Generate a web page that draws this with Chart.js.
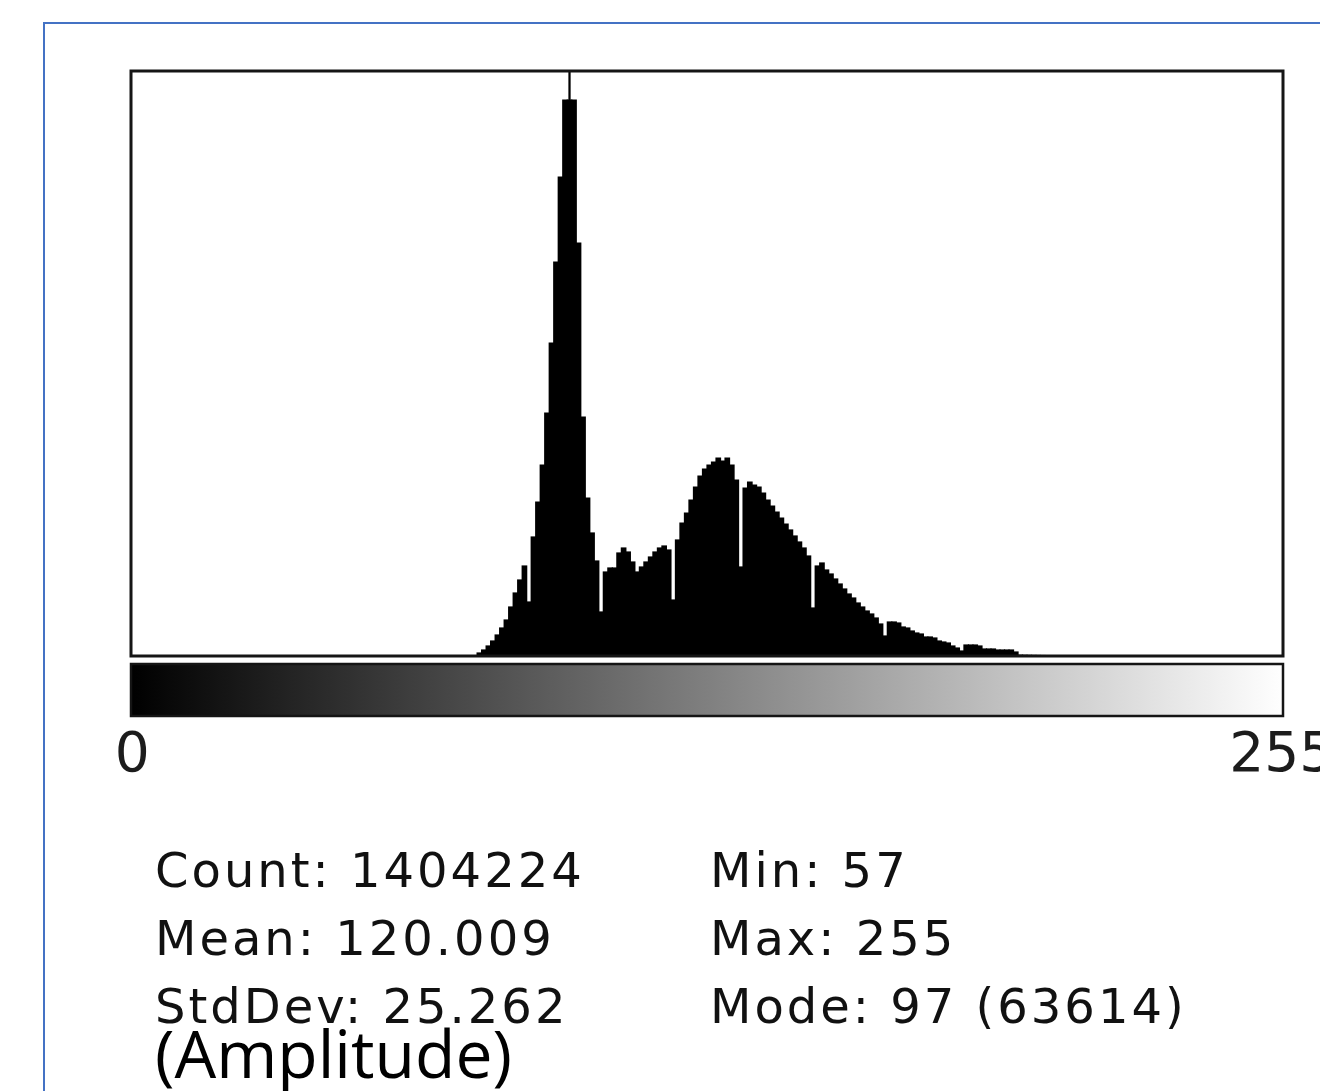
<!DOCTYPE html>
<html>
<head>
<meta charset="utf-8">
<script src="https://cdn.jsdelivr.net/npm/chart.js@4.4.1/dist/chart.umd.min.js"></script>
<style>
html,body{margin:0;padding:0;width:1320px;height:1091px;overflow:hidden;background:#fff;}
#wrap{position:relative;width:1320px;height:1091px;overflow:hidden;}
#frame{position:absolute;left:43px;top:22px;width:1400px;height:1200px;border:2px solid #4472c4;box-sizing:border-box;}
#c{position:absolute;left:0;top:0;}
.stat{position:absolute;font-family:"DejaVu Sans";font-size:48px;line-height:48px;letter-spacing:3px;color:#111;white-space:nowrap;}
#amp{position:absolute;left:155px;top:1019px;font-family:"Open Sans";font-size:66px;line-height:66px;color:#000;white-space:nowrap;}
</style>
</head>
<body>
<div id="wrap">
  <div id="frame"></div>
  <canvas id="c" width="1320" height="1091"></canvas>
  <div id="stats"></div>
  <div id="amp">(Amplitude)</div>
</div>
<script>
// ---- data ----
const firstBin = 57;            // Min
const lowTail = [1,1,1,2,2,3,3,4,5,6,7,8,10,12,14,17,20,24,30,40];               // bins 57-76
const mainBody = [                                                                   // bins 77-196
  326,651,1086,1628,2280,3040,3908,5319,6839,8251,
  9770,5862,12919,16718,20735,26380,33979,42772,52000,60359,
  63614,60359,44835,25946,17152,13353,10313,4777,9119,9553,
  9553,11182,11724,11290,10205,9119,9662,10205,10747,11290,
  11724,11942,11507,6079,12593,14438,15524,16935,18347,19541,
  20301,20735,21061,21495,21169,21495,20735,19107,9662,18238,
  18889,18564,18347,17695,16935,16284,15633,14981,14330,13679,
  13027,12376,11724,10856,5211,9770,10096,9336,8902,8359,
  7816,7274,6731,6296,5754,5319,4885,4560,4125,3474,
  2171,3691,3691,3582,3148,3040,2714,2497,2388,2063,
  2063,1954,1628,1520,1411,1086,868,543,1194,1194,
  1194,1086,760,760,760,651,651,651,651,434
];
const highTail = [                                                                   // bins 197-255
  90,80,70,62,55,49,44,40,36,32,
  29,26,24,22,20,18,16,15,14,13,
  12,11,10,9,9,8,8,7,7,6,
  6,5,5,5,4,4,4,3,3,3,
  3,3,2,2,2,2,2,2,1,1,
  1,1,1,1,1,1,1,1,20
];
const modeBin = 97;
const modeCount = 63614;
const tickBins = [0, 255];
const tickLabels = ['0', '255'];
const statsLeft = ['Count: 1404224', 'Mean: 120.009', 'StdDev: 25.262'];
const statsRight = ['Min: 57', 'Max: 255', 'Mode: 97 (63614)'];
const axisTitle = '(Amplitude)';

// ---- build library tables ----
const binLabels = [];
for (let i = 0; i < 256; i++) binLabels.push(String(i));
const counts = new Array(firstBin).fill(0).concat(lowTail, mainBody, highTail);
// wide bars: the mode bin is shown at its neighbours' level, its full count as a thin line
const bodyDisplay = counts.map((v, i) => i === modeBin ? Math.max(counts[i - 1], counts[i + 1]) : v);
const modeLine = counts.map((v, i) => i === modeBin ? v : null);

// ---- stats text ----
const statsDiv = document.getElementById('stats');
statsLeft.forEach((t, r) => {
  const d = document.createElement('div'); d.className = 'stat';
  d.style.left = '155px'; d.style.top = (846 + r * 68) + 'px'; d.textContent = t; statsDiv.appendChild(d);
});
statsRight.forEach((t, r) => {
  const d = document.createElement('div'); d.className = 'stat';
  d.style.left = '710px'; d.style.top = (846 + r * 68) + 'px'; d.textContent = t; statsDiv.appendChild(d);
});
document.getElementById('amp').textContent = axisTitle;

// ---- frame + LUT bar plugin ----
const framePlugin = {
  id: 'frameLut',
  afterDraw(chart) {
    const ctx = chart.ctx;
    const {left, top, right, bottom} = chart.chartArea;
    ctx.save();
    ctx.strokeStyle = '#151515';
    ctx.lineWidth = 3;
    ctx.strokeRect(left + 1, top + 1, right - left - 2, bottom - top - 1);
    const gy = bottom + 7, gh = 54;
    const grad = ctx.createLinearGradient(left, 0, right, 0);
    grad.addColorStop(0, '#000');
    grad.addColorStop(1, '#fff');
    ctx.fillStyle = grad;
    ctx.fillRect(left, gy, right - left, gh);
    ctx.lineWidth = 2.5;
    ctx.strokeRect(left + 1, gy + 1, right - left - 2, gh - 2);
    ctx.restore();
  }
};

new Chart(document.getElementById('c'), {
  type: 'bar',
  data: {
    labels: binLabels,
    datasets: [
      {data: bodyDisplay, backgroundColor: '#000', borderWidth: 0, barPercentage: 1, categoryPercentage: 1, grouped: false, inflateAmount: 0.6},
      {data: modeLine, backgroundColor: '#000', borderWidth: 0, barPercentage: 0.5, categoryPercentage: 1, grouped: false, inflateAmount: 0}
    ]
  },
  options: {
    responsive: false,
    animation: false,
    devicePixelRatio: 1,
    layout: {padding: {left: 130, right: 36, top: 70, bottom: 305}},
    plugins: {legend: {display: false}, tooltip: {enabled: false}},
    scales: {
      x: {
        display: true,
        grid: {display: false},
        border: {display: false},
        ticks: {
          autoSkip: false, maxRotation: 0, minRotation: 0, padding: 60,
          font: {family: 'DejaVu Sans', size: 55}, color: '#1c1c1c',
          callback: (v, i) => { const k = tickBins.indexOf(i); return k >= 0 ? tickLabels[k] : ''; }
        },
        afterFit: (s) => { s.height = 130; s.paddingLeft = 0; s.paddingRight = 0; }
      },
      y: {display: false, min: 0, max: modeCount}
    }
  },
  plugins: [framePlugin]
});
</script>
</body>
</html>
